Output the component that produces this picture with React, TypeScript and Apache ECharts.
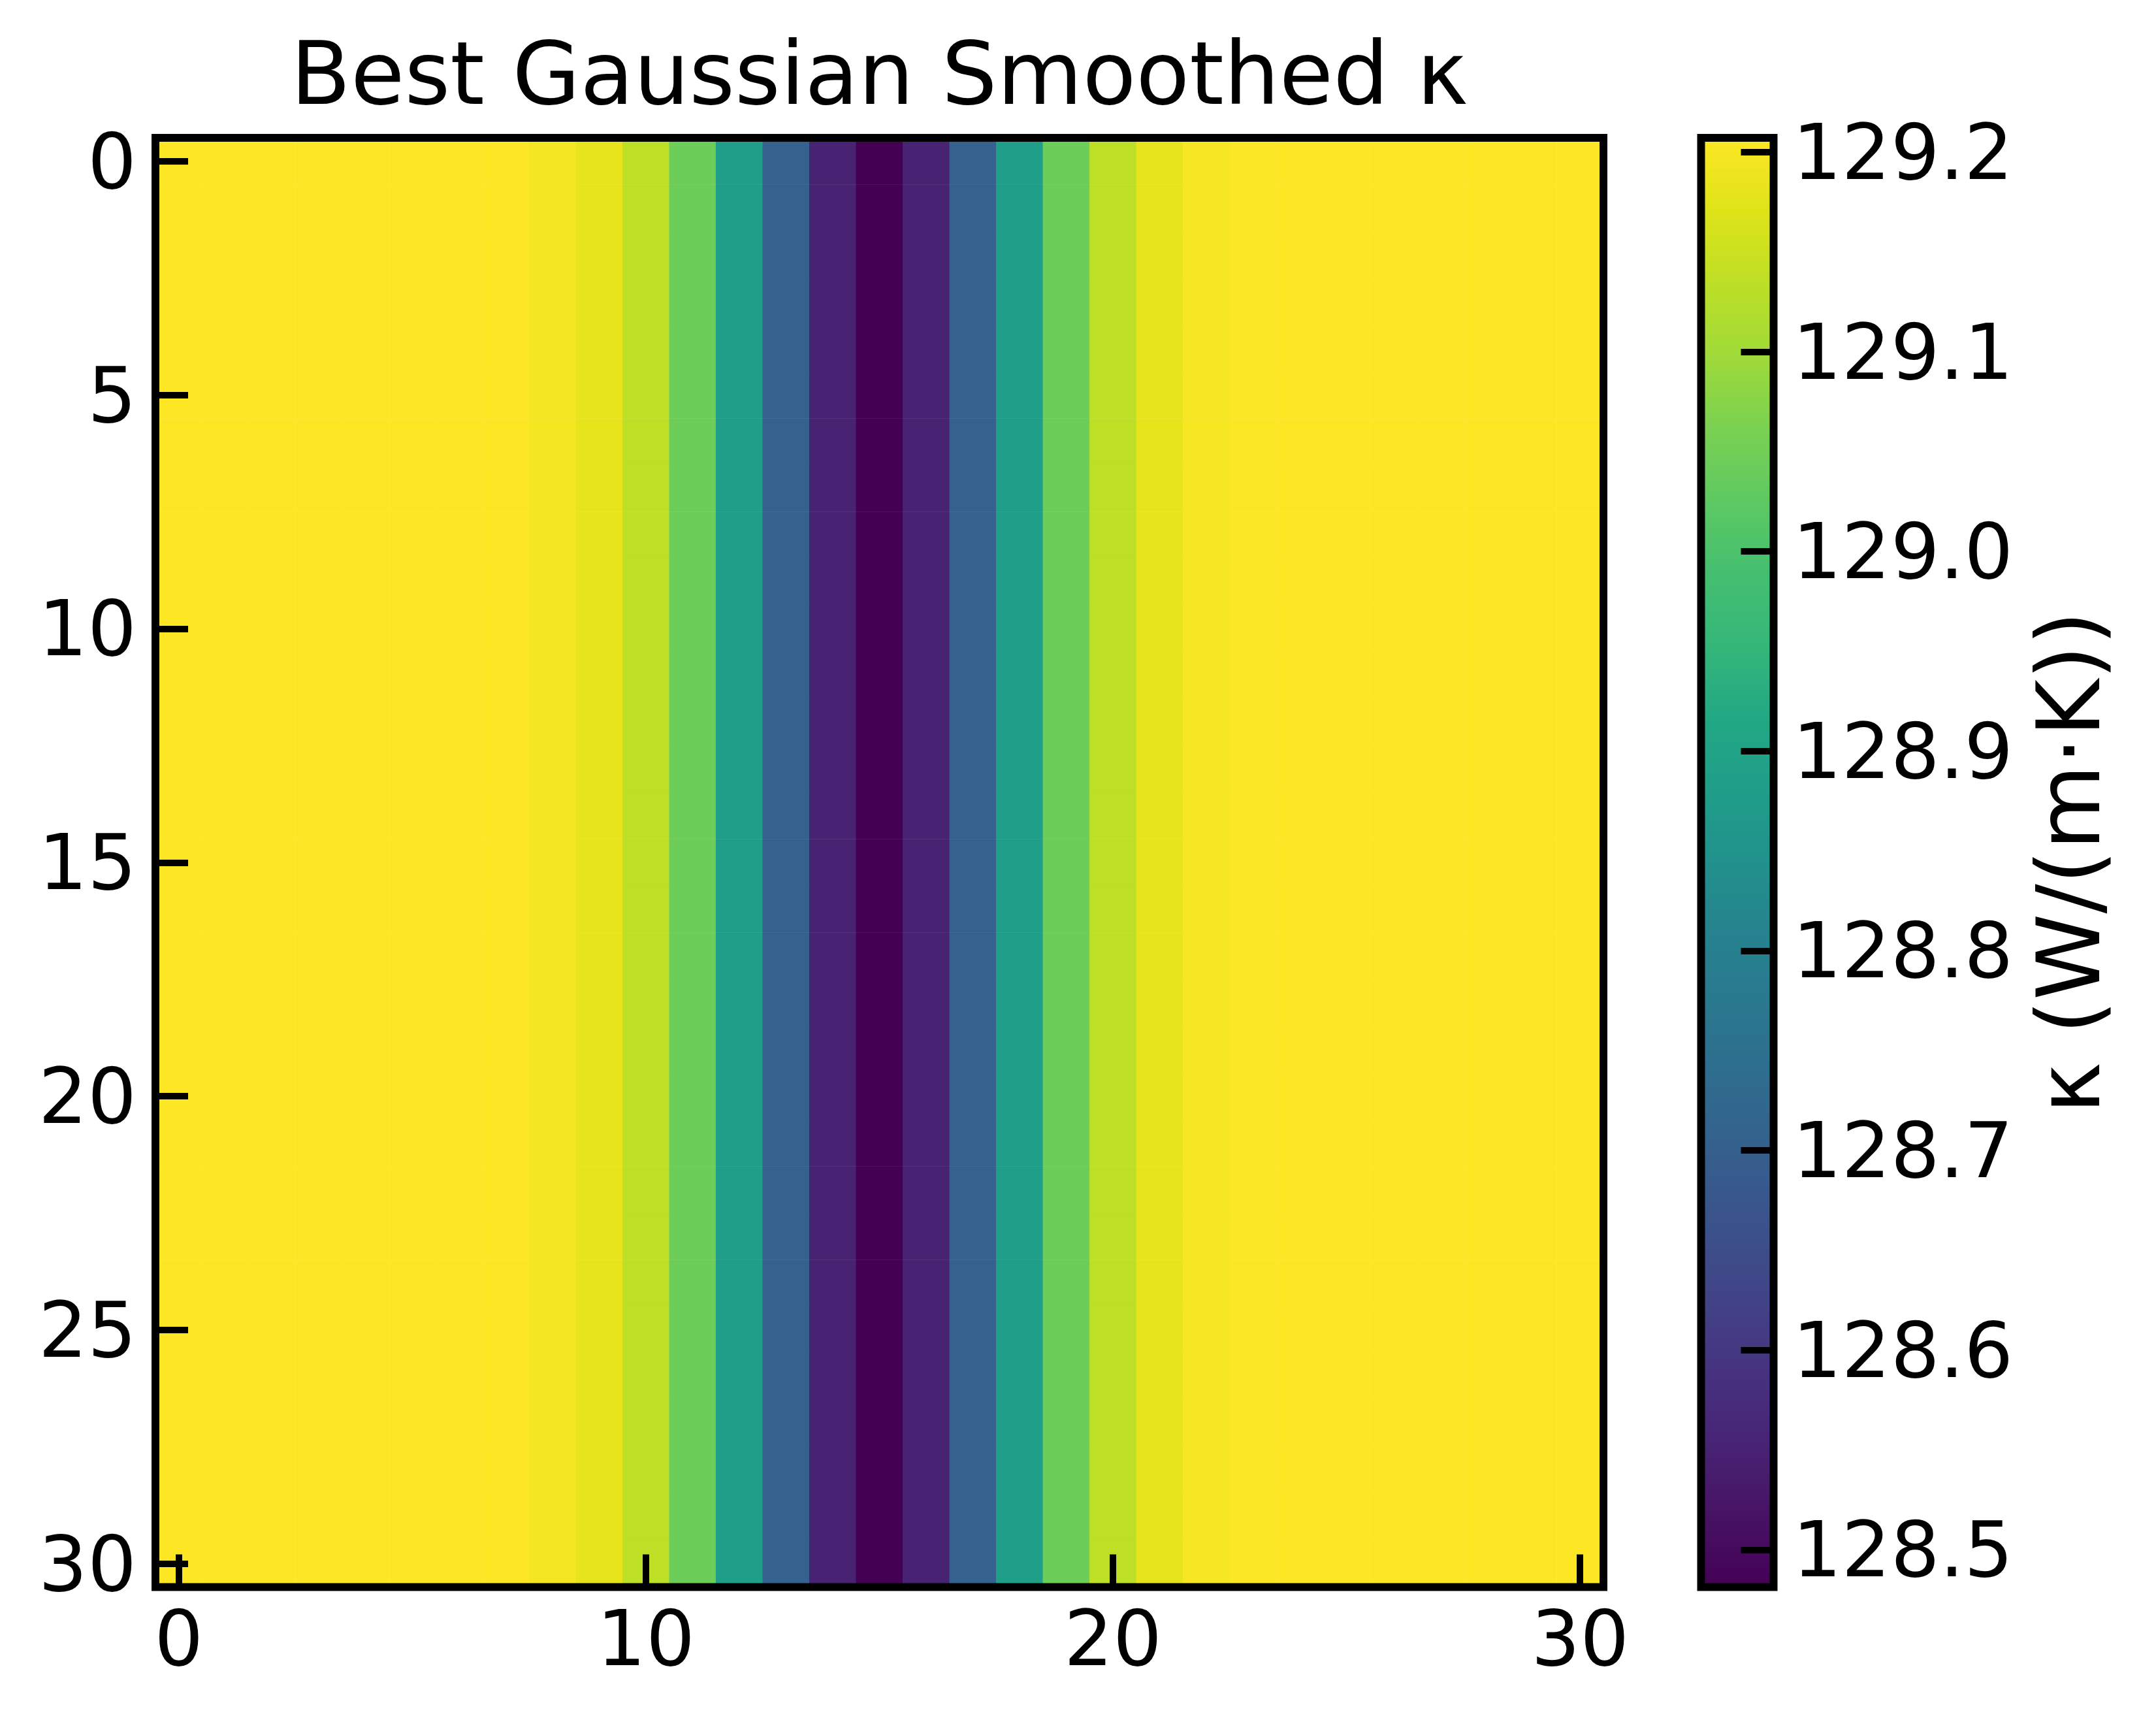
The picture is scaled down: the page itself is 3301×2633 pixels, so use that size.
import React, { useEffect, useRef } from "react";
import * as echarts from "echarts";

// ---------- data ----------
const X_CATEGORIES = [
  "0","1","2","3","4","5","6","7","8","9","10","11","12","13","14","15",
  "16","17","18","19","20","21","22","23","24","25","26","27","28","29","30",
];
const Y_CATEGORIES = [
  "0","1","2","3","4","5","6","7","8","9","10","11","12","13","14","15",
  "16","17","18","19","20","21","22","23","24","25","26","27","28","29","30",
];
// κ value of each column (every row of the map is identical)
const COLUMN_VALUES = [
  129.207, 129.207, 129.207, 129.207, 129.207, 129.207, 129.207, 129.207,
  129.196, 129.182, 129.135, 129.044, 128.880, 128.706, 128.550, 128.481,
  128.550, 128.706, 128.880, 129.044, 129.135, 129.182, 129.200,
  129.206, 129.207, 129.207, 129.207, 129.207, 129.207, 129.207, 129.207,
];
const V_MIN = 128.4813;
const V_MAX = 129.2072;
const COLORBAR_TICKS = [128.5, 128.6, 128.7, 128.8, 128.9, 129.0, 129.1, 129.2];
const X_TICK_STEP = 10;
const Y_TICK_STEP = 5;
const TITLE = "Best Gaussian Smoothed κ";
const CBAR_LABEL = "κ (W/(m·K))";

// viridis colormap stops
const VIRIDIS = [
  "#440154", "#471365", "#482475", "#46337f", "#414487", "#3b528b",
  "#355f8d", "#2f6c8e", "#2a788e", "#26828e", "#21918c", "#1f9e89",
  "#22a884", "#35b779", "#44bf70", "#5ec962", "#7ad151", "#a0da39",
  "#bddf26", "#dfe318", "#fde725",
];

// ---------- layout ----------
const W = 3301;
const H = 2633;
const FONT = "DejaVu Sans";
const PLOT = { left: 238, top: 211, width: 2217, height: 2218.5 };
const CBAR = { left: 2604.5, top: 211, width: 111, height: 2218.5 };
const TICK_FS = 118;
const BIG_FS = 134;

const isCbarTick = (v: number) =>
  COLORBAR_TICKS.some((t) => Math.abs(t - v) < 1e-6);

export default function App() {
  const ref = useRef<HTMLDivElement>(null);

  useEffect(() => {
    if (!ref.current) return;
    const chart = echarts.init(ref.current, null, { renderer: "svg" });

    const heatData: number[][] = [];
    for (let r = 0; r < Y_CATEGORIES.length; r++) {
      for (let c = 0; c < X_CATEGORIES.length; c++) {
        heatData.push([c, r, COLUMN_VALUES[c]]);
      }
    }

    const gradient = {
      type: "linear",
      x: 0, y: 0, x2: 0, y2: 1,
      colorStops: VIRIDIS.map((col, i) => ({
        offset: 1 - i / (VIRIDIS.length - 1),
        color: col,
      })).reverse(),
    };

    const tickStyle = { color: "#000", width: 10 };
    const labelStyle = {
      color: "#000",
      fontSize: TICK_FS,
      fontFamily: FONT,
    };

    chart.setOption({
      animation: false,
      backgroundColor: "#fff",
      grid: [
        {
          ...PLOT,
          show: true,
          z: 11,
          borderColor: "#000",
          borderWidth: 12,
          backgroundColor: "transparent",
        },
        {
          ...CBAR,
          show: true,
          z: 11,
          borderColor: "#000",
          borderWidth: 12,
          backgroundColor: "transparent",
        },
      ],
      xAxis: [
        {
          gridIndex: 0,
          type: "category",
          data: X_CATEGORIES,
          position: "bottom",
          z: 10,
          axisLine: { show: false },
          axisTick: {
            show: true,
            inside: true,
            length: 50,
            alignWithLabel: true,
            interval: (i: number) => i % X_TICK_STEP === 0,
            lineStyle: tickStyle,
          },
          axisLabel: {
            ...labelStyle,
            margin: 19,
            interval: (i: number) => i % X_TICK_STEP === 0,
          },
          splitLine: { show: false },
        },
        {
          gridIndex: 1,
          type: "value",
          min: 0,
          max: 1,
          show: false,
        },
      ],
      yAxis: [
        {
          gridIndex: 0,
          type: "category",
          data: Y_CATEGORIES,
          inverse: true,
          position: "left",
          z: 10,
          axisLine: { show: false },
          axisTick: {
            show: true,
            inside: true,
            length: 50,
            alignWithLabel: true,
            interval: (i: number) => i % Y_TICK_STEP === 0,
            lineStyle: tickStyle,
          },
          axisLabel: {
            ...labelStyle,
            margin: 29,
            interval: (i: number) => i % Y_TICK_STEP === 0,
          },
          splitLine: { show: false },
        },
        {
          gridIndex: 1,
          type: "value",
          min: V_MIN,
          max: V_MAX,
          splitNumber: 7,
          position: "right",
          z: 10,
          axisLine: { show: false, onZero: false },
          axisTick: {
            show: true,
            inside: true,
            length: 50,
            lineStyle: tickStyle,
          },
          axisLabel: {
            ...labelStyle,
            margin: 29,
            showMinLabel: false,
            showMaxLabel: false,
            formatter: (v: number) => (isCbarTick(v) ? v.toFixed(1) : ""),
          },
          splitLine: { show: false },
        },
      ],
      visualMap: {
        type: "continuous",
        show: false,
        min: V_MIN,
        max: V_MAX,
        dimension: 2,
        seriesIndex: 0,
        inRange: { color: VIRIDIS },
      },
      series: [
        {
          type: "heatmap",
          xAxisIndex: 0,
          yAxisIndex: 0,
          data: heatData,
          progressive: 0,
          itemStyle: { borderWidth: 0 },
          emphasis: { disabled: true },
        },
        {
          type: "custom",
          xAxisIndex: 1,
          yAxisIndex: 1,
          data: [[0, V_MAX, 1, V_MIN]],
          encode: { x: [0, 2], y: [1, 3] },
          renderItem: (_p: any, api: any) => {
            const tl = api.coord([api.value(0), api.value(1)]);
            const br = api.coord([api.value(2), api.value(3)]);
            return {
              type: "rect",
              shape: {
                x: tl[0],
                y: tl[1],
                width: br[0] - tl[0],
                height: br[1] - tl[1],
              },
              style: { fill: gradient },
            };
          },
        },
      ],
      graphic: [
        {
          type: "text",
          x: PLOT.left + PLOT.width / 2,
          y: 113,
          style: {
            text: TITLE,
            fill: "#000",
            fontSize: BIG_FS,
            fontFamily: FONT,
            align: "center",
            verticalAlign: "middle",
          },
        },
        {
          type: "text",
          x: 3168,
          y: CBAR.top + CBAR.height / 2,
          rotation: Math.PI / 2,
          style: {
            text: CBAR_LABEL,
            fill: "#000",
            fontSize: BIG_FS,
            fontFamily: FONT,
            align: "center",
            verticalAlign: "middle",
          },
        },
      ],
    });

    return () => chart.dispose();
  }, []);

  return (
    <div
      ref={ref}
      style={{ position: "absolute", left: 0, top: 0, width: W, height: H }}
    />
  );
}
